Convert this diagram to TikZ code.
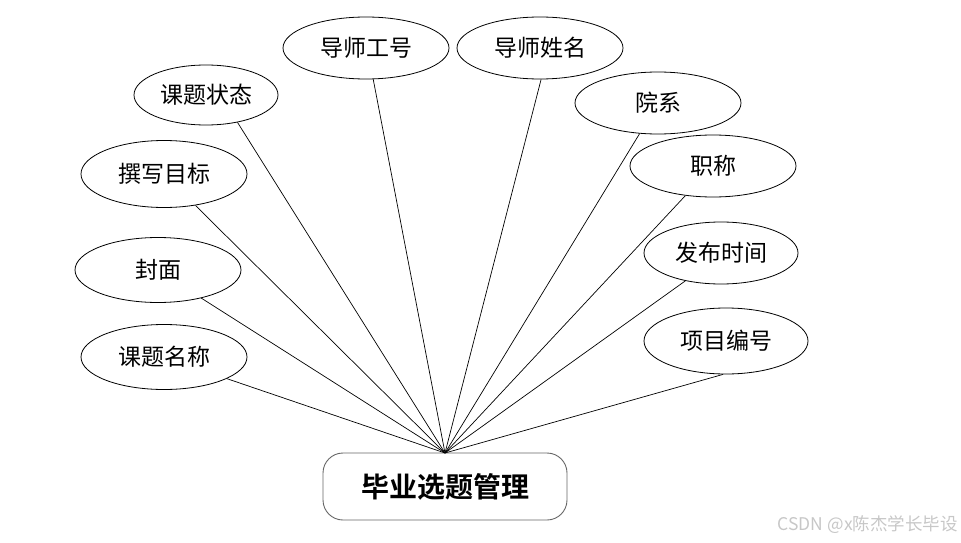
\documentclass[tikz,border=0pt]{standalone}
\usepackage{fontspec}
\newfontfamily\cjk{Noto Sans CJK SC}
\newfontfamily\cjkb{Noto Sans CJK SC Bold}
\usetikzlibrary{shapes.geometric}
\tikzset{
  attr/.style={ellipse, draw=black, line width=0.8pt, inner sep=0pt, font=\cjk\fontsize{23}{26}\selectfont},
  mainbox/.style={rectangle, rounded corners=20pt, draw=black!60, line width=0.9pt, minimum width=244pt, minimum height=67pt, inner sep=0pt, font=\cjkb\fontsize{28}{32}\selectfont},
  link/.style={line width=0.7pt, draw=black}
}
\begin{document}
\begin{tikzpicture}[x=1pt,y=-1pt]
\useasboundingbox (0,0) rectangle (961,543);
\node[mainbox] (m) at (445,486.5) {毕业选题管理};
\coordinate (c) at (445,453);
\node[attr, minimum width=166pt, minimum height=62pt] (a1) at (366,48) {导师工号};
\node[attr, minimum width=166pt, minimum height=62pt] (a2) at (540,48) {导师姓名};
\node[attr, minimum width=144pt, minimum height=60pt] (a3) at (206,95) {课题状态};
\node[attr, minimum width=166pt, minimum height=62pt] (a4) at (658,103) {院系};
\node[attr, minimum width=166pt, minimum height=67pt] (a5) at (164,174) {撰写目标};
\node[attr, minimum width=166pt, minimum height=62pt] (a6) at (713,166) {职称};
\node[attr, minimum width=166pt, minimum height=65pt] (a7) at (158,270) {封面};
\node[attr, minimum width=154pt, minimum height=62pt] (a8) at (721,253) {发布时间};
\node[attr, minimum width=166pt, minimum height=65pt] (a9) at (164,357) {课题名称};
\node[attr, minimum width=164pt, minimum height=66pt] (a10) at (726,341) {项目编号};
\draw[link] (a1.-77.7) -- (c);
\draw[link] (a2.-88.2) -- (c);
\draw[link] (a3.-41.4) -- (c);
\draw[link] (a4.-121) -- (c);
\draw[link] (a5.-45) -- (c);
\draw[link] (a6.-133) -- (c);
\draw[link] (a7.-33.7) -- (c);
\draw[link] (a8.-142.6) -- (c);
\draw[link] (a9.-19.2) -- (c);
\draw[link] (a10.-95) -- (c);
\node[anchor=east, text=black!22, font=\cjk\fontsize{17.5}{20}\selectfont, inner sep=0pt] (wm) at (958,525) {CSDN @x陈杰学长毕设};
\end{tikzpicture}
\end{document}
